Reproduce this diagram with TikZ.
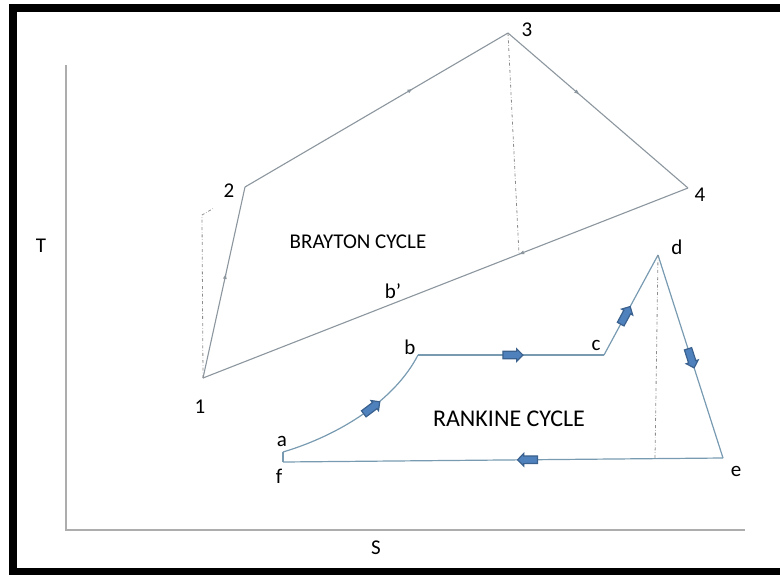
\documentclass[tikz,border=0pt]{standalone}
\usepackage{fontspec}
\setmainfont{Carlito}
\usetikzlibrary{positioning, arrows.meta, decorations.markings, shapes.arrows}
\definecolor{CycleGray}{RGB}{140,150,158}
\definecolor{SteamLine}{RGB}{120,155,178}
\definecolor{FlowBlue}{RGB}{79,129,189}

\begin{document}
\begin{tikzpicture}[x=1pt, y=-1pt, font=\fontsize{21}{25}\selectfont]
    \tikzset{
        axisline/.style={draw=black!32, line width=1.3pt},
        gasline/.style={draw=CycleGray, line width=1.1pt},
        steamline/.style={draw=SteamLine, line width=1.2pt},
        helper/.style={draw=black!45, dash dot, line width=0.8pt},
        midarrow/.style={postaction={decorate}, decoration={markings,
            mark=at position #1 with {\arrow{Latex[length=6pt, width=4pt]}}}},
        flowarrow/.style={single arrow, draw=FlowBlue!75!black, fill=FlowBlue,
            minimum height=20pt, single arrow head extend=2.5pt,
            inner sep=3.2pt, sloped, allow upside down},
        ptlabel/.style={inner sep=1pt}
    }
    \useasboundingbox (0,0) rectangle (780,574);
    % frame
    \draw[line width=8pt] (780,8) -- (13,8) -- (13,572) -- (780,572);
    % axes
    \coordinate (origin) at (66,530);
    \coordinate (ytop) at (66,65);
    \coordinate (xend) at (745,530);
    \draw[axisline] (ytop) -- (origin) -- (xend);
    \node (tlabel) at (41,246) {T};
    \node (slabel) at (376,548) {S};
    % Brayton cycle
    \coordinate (p1) at (203,378);
    \coordinate (p2) at (245,187);
    \coordinate (p3) at (508,33);
    \coordinate (p4) at (688,188);
    \draw[gasline, midarrow=0.55] (p1) -- (p2);
    \draw[gasline, midarrow=0.64] (p2) -- (p3);
    \draw[gasline, midarrow=0.40] (p3) -- (p4);
    \draw[gasline, midarrow=0.35] (p4) -- (p1);
    \coordinate (k1) at (202,215);
    \coordinate (k2) at (214,208);
    \coordinate (k3) at (519,254);
    \draw[helper] (p1) -- (k1) -- (k2);
    \draw[helper] (p3) -- (k3);
    \node[ptlabel] (l1) at (200,407) {1};
    \node[ptlabel] (l2) at (229,191) {2};
    \node[ptlabel] (l3) at (527,30) {3};
    \node[ptlabel] (l4) at (700,195) {4};
    \node[ptlabel] (lbb) at (393,291) {b’};
    \node (brayton) at (358,242) {BRAYTON CYCLE};
    % Rankine cycle
    \coordinate (ca) at (283,452);
    \coordinate (cf) at (283,462);
    \coordinate (cb) at (418,355);
    \coordinate (cc) at (604,355);
    \coordinate (cd) at (658,255);
    \coordinate (ce) at (723,458);
    \coordinate (kd) at (655,459);
    \draw[steamline] (ca) .. controls (340,435) and (395,400) .. node[flowarrow, pos=0.55] {} (cb);
    \draw[steamline] (cb) -- node[flowarrow, pos=0.5] {} (cc);
    \draw[steamline] (cc) -- node[flowarrow, pos=0.38] {} (cd);
    \draw[steamline] (cd) -- node[flowarrow, pos=0.5] {} (ce);
    \draw[steamline] (ce) -- node[flowarrow, pos=0.44] {} (cf);
    \draw[steamline] (cf) -- (ca);
    \draw[helper] (cd) -- (kd);
    \node[ptlabel] (la) at (282,441) {a};
    \node[ptlabel] (lf) at (279,476) {f};
    \node[ptlabel] (lb) at (410,347) {b};
    \node[ptlabel] (lc) at (596,345) {c};
    \node[ptlabel] (ld) at (677,247) {d};
    \node[ptlabel] (le) at (736,471) {e};
    \node[font=\fontsize{24}{28}\selectfont] (rankine) at (509,419) {RANKINE CYCLE};
\end{tikzpicture}
\end{document}
